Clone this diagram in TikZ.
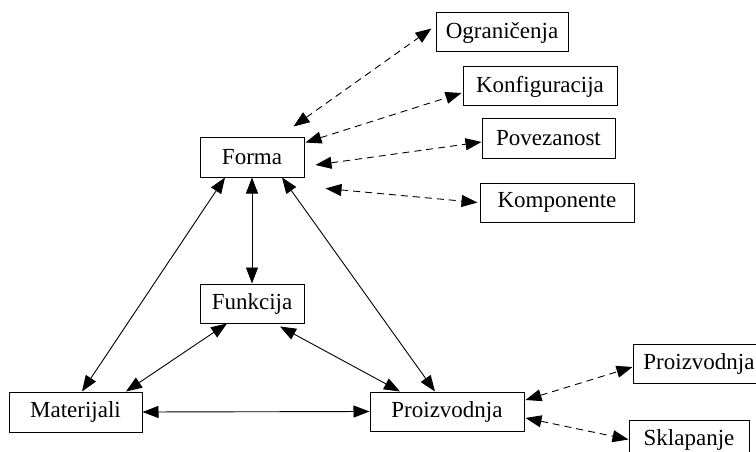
\documentclass[tikz,border=0pt]{standalone}
\usepackage{fontspec}
\setmainfont{Liberation Serif}
\usetikzlibrary{arrows.meta}
\begin{document}
\begin{tikzpicture}[x=1pt,y=-1pt,
  box/.style={draw,line width=1pt,rectangle,inner sep=0pt,minimum height=39pt,
    font=\fontsize{23}{27}\selectfont},
  link/.style={line width=0.9pt,{Triangle[length=16pt,width=12pt]}-{Triangle[length=16pt,width=12pt]}},
  dlink/.style={link,dash pattern=on 7pt off 5pt}]
\useasboundingbox (0,0) rectangle (756,452);
\clip (0,0) rectangle (756,452);

% central triangle
\node[box,minimum width=104pt] (forma) at (252,157.5) {Forma};
\node[box,minimum width=104pt] (funk) at (252,303.5) {Funkcija};
\node[box,minimum width=133pt,minimum height=40pt] (mat) at (75.5,412) {Materijali};
\node[box,minimum width=154pt] (proiz) at (447,411.5) {Proizvodnja};

% satellites of Forma
\node[box,minimum width=132pt] (ogr) at (502,32.5) {Ograničenja};
\node[box,minimum width=154pt] (konf) at (540,86.5) {Konfiguracija};
\node[box,minimum width=133pt] (pov) at (548.5,138.5) {Povezanost};
\node[box,minimum width=154pt] (komp) at (557,202.5) {Komponente};

% satellites of Proizvodnja
\node[box,minimum width=132pt] (proiz2) at (699,363.5) {Proizvodnja};
\node[box,minimum width=120pt] (sklap) at (689,439.5) {Sklapanje};

% solid relations
\draw[link] ([xshift=-27pt]forma.south) -- ([xshift=6.5pt]mat.north);
\draw[link] (forma.south) -- (funk.north);
\draw[link] ([xshift=30pt]forma.south) -- ([xshift=-12pt]proiz.north);
\draw[link] ([xshift=-25pt]funk.south) -- ([xshift=50.5pt]mat.north);
\draw[link] ([xshift=28pt,yshift=-3pt]funk.south) -- ([xshift=-47pt]proiz.north);
\draw[link] (mat.east) -- (proiz.west);

% dashed relations
\draw[dlink] ([xshift=-11pt,yshift=11pt]forma.north east) -- ([xshift=-4pt,yshift=4pt]ogr.west);
\draw[dlink] ([xshift=1pt,yshift=-5pt]forma.north east) -- ([xshift=-1pt,yshift=-6.5pt]konf.west);
\draw[dlink] ([xshift=11pt,yshift=-7.5pt]forma.east) -- ([yshift=-3.5pt]pov.west);
\draw[dlink] ([xshift=21pt,yshift=-11pt]forma.south east) -- ([xshift=-2pt]komp.west);
\draw[dlink] ([xshift=1pt,yshift=11.5pt]proiz.east) -- ([yshift=-3.5pt]proiz2.west);
\draw[dlink] ([xshift=1pt,yshift=-6.5pt]proiz.east) -- (sklap.west);
\end{tikzpicture}
\end{document}
